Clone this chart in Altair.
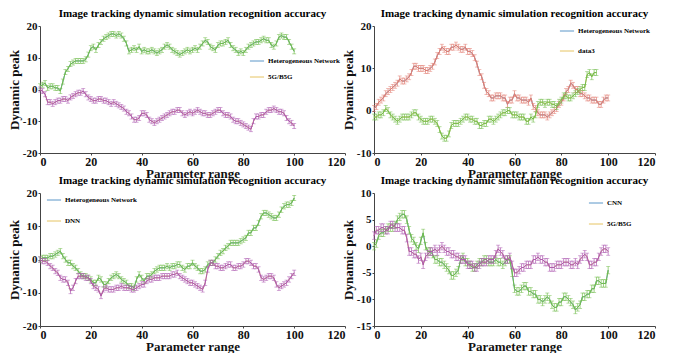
import altair as alt
import pandas as pd

TITLE = "Image tracking dynamic simulation recognition accuracy"
X_LABEL = "Parameter range"
Y_LABEL = "Dynamic peak"

# Panel 1 (top-left)
P1_NAMES = ["Heterogeneous Network", "5G/B5G"]
P1_A = [1.0, 1.5, 2.0, 0.5, 1.0, 1.0, 0.5, 0.5, -0.5, 2.5, 5.5, 6.5, 8.0, 8.5, 9.0, 9.0, 9.0, 9.0, 9.5, 11.0,
        13.0, 13.5, 12.5, 14.0, 15.0, 16.0, 16.5, 17.0, 17.5, 17.5, 17.0, 17.5, 17.0, 16.0, 14.5, 12.0, 12.5, 13.0, 12.5, 13.5,
        12.0, 12.5, 12.0, 12.0, 12.5, 12.0, 11.5, 12.0, 12.5, 13.5, 14.0, 13.5, 12.5, 12.0, 11.5, 11.0, 11.5, 12.0, 12.5, 12.0,
        12.5, 13.0, 12.5, 13.5, 14.5, 15.5, 15.0, 13.5, 13.0, 12.5, 14.0, 14.5, 14.5, 15.0, 15.5, 14.0, 13.0, 12.5, 11.5, 12.0,
        11.5, 12.5, 13.5, 14.0, 14.5, 15.0, 15.0, 15.5, 16.0, 15.5, 15.5, 14.0, 13.5, 14.5, 16.5, 17.0, 16.5, 16.5, 15.0, 13.5,
        12.0]
P1_B = [0.0, -0.5, -1.5, -4.0, -4.0, -4.5, -4.0, -3.5, -3.5, -3.0, -3.0, -3.5, -2.5, -2.0, -1.5, -1.0, -1.0, -0.5, -1.5, -2.5,
        -3.0, -3.5, -3.5, -3.0, -3.0, -3.5, -3.5, -4.0, -4.5, -4.0, -4.5, -5.0, -5.5, -6.0, -7.0, -7.5, -8.5, -9.5, -9.5, -9.0,
        -7.5, -7.5, -8.0, -9.5, -10.0, -10.5, -10.0, -9.5, -9.0, -8.5, -8.0, -7.5, -7.0, -7.0, -6.5, -6.5, -7.5, -8.0, -7.5, -7.0,
        -7.5, -7.0, -6.5, -7.0, -7.5, -7.5, -8.0, -8.0, -7.5, -7.0, -6.5, -6.5, -7.5, -8.0, -8.0, -8.5, -9.5, -10.0, -10.0, -10.5,
        -11.0, -11.5, -12.0, -12.5, -10.0, -8.5, -8.5, -8.0, -8.0, -7.0, -6.5, -6.5, -6.0, -6.5, -7.0, -7.0, -7.5, -9.0, -10.0, -10.5,
        -11.5]

# Panel 2 (top-right)
P2_NAMES = ["Heterogeneous Network", "data3"]
P2_A = [0.5, 1.0, 2.0, 2.5, 3.0, 4.0, 4.5, 5.0, 5.5, 6.0, 6.5, 7.5, 7.0, 7.0, 7.5, 8.0, 9.0, 10.5, 10.5, 10.0,
        10.0, 10.0, 9.5, 9.5, 10.0, 10.5, 11.5, 13.0, 14.0, 15.0, 14.5, 14.0, 14.0, 15.0, 15.0, 15.5, 15.0, 14.5, 14.5, 15.0,
        14.0, 14.0, 13.5, 12.5, 11.0, 9.0, 8.0, 6.0, 4.5, 4.0, 3.0, 3.0, 3.5, 3.5, 3.5, 3.0, 3.0, 1.5, 2.5, 2.5,
        4.0, 3.0, 3.0, 2.5, 2.5, 2.5, 2.0, 3.0, 1.0, 0.5, -0.5, -1.0, -1.0, -1.0, -1.5, -1.0, -0.5, 0.0, 0.5, 1.5,
        2.0, 3.0, 4.5, 5.0, 6.5, 6.0, 5.0, 5.0, 4.0, 4.0, 3.5, 3.0, 3.0, 2.5, 2.5, 2.5, 1.5, 1.5, 2.5, 3.0,
        3.0]
P2_B = [-1.5, -1.5, -1.0, -1.0, -0.5, 0.5, 0.0, -1.0, -1.5, -2.0, -2.5, -2.0, -1.5, -1.5, -1.5, -1.5, -1.0, -0.5, -0.5, -1.5,
        -2.0, -2.5, -2.5, -2.5, -2.0, -2.0, -2.5, -3.0, -4.5, -6.0, -6.5, -6.5, -5.5, -3.5, -3.0, -3.0, -3.0, -2.5, -2.0, -1.5,
        -1.5, -2.0, -2.0, -2.5, -2.5, -3.5, -3.5, -3.0, -3.0, -2.0, -2.0, -2.5, -2.0, -1.5, -1.0, -0.5, -0.5, 0.0, 0.0, -1.0,
        -1.0, -1.0, -1.5, -1.5, -1.5, -2.5, -2.5, -1.5, -2.0, -1.0, 1.5, 2.0, 2.0, 1.5, 2.0, 2.0, 1.5, 1.5, 1.0, 2.0,
        2.5, 3.5, 3.5, 3.0, 3.0, 3.5, 4.0, 4.5, 5.0, 5.5, 5.5, 8.5, 9.0, 8.0, 9.0, 9.0]

# Panel 3 (bottom-left)
P3_NAMES = ["Heterogeneous Network", "DNN"]
P3_A = [0.0, 0.5, 0.5, 0.5, 1.0, 1.0, 1.5, 2.0, 2.5, 1.0, 0.0, -1.0, -1.0, -2.0, -2.5, -3.5, -4.5, -5.0, -5.0, -5.5,
        -6.0, -7.0, -7.0, -5.5, -6.0, -7.5, -7.5, -6.5, -5.5, -5.0, -4.5, -5.0, -6.0, -6.5, -7.0, -8.0, -8.0, -8.5, -6.0, -4.5,
        -5.5, -6.5, -5.0, -5.0, -4.5, -3.5, -3.0, -2.5, -2.5, -2.5, -2.0, -2.5, -2.0, -2.0, -1.5, -1.5, -2.5, -3.0, -2.0, -2.0,
        -1.0, -2.0, -2.5, -3.5, -3.5, -3.0, -1.5, -1.0, -1.0, 0.0, 1.0, 2.0, 2.5, 3.5, 4.0, 5.0, 5.0, 5.0, 5.0, 5.5,
        6.0, 6.5, 8.0, 8.0, 9.5, 9.5, 11.0, 13.0, 14.0, 14.0, 13.5, 13.0, 12.5, 12.5, 13.5, 15.0, 16.0, 16.5, 16.5, 17.0,
        18.5]
P3_B = [0.0, -0.5, -0.5, -1.0, -2.0, -2.5, -3.5, -4.0, -5.5, -6.0, -6.0, -7.0, -9.5, -8.5, -6.5, -5.0, -5.0, -5.0, -5.5, -5.5,
        -6.5, -8.0, -8.5, -9.0, -11.0, -9.0, -8.5, -9.0, -9.0, -9.0, -8.5, -8.5, -8.0, -8.5, -8.5, -8.5, -9.0, -9.0, -8.5, -8.0,
        -7.5, -7.5, -6.5, -6.0, -6.0, -5.5, -5.5, -5.5, -5.0, -5.0, -5.0, -5.0, -4.5, -4.5, -4.0, -5.0, -5.5, -6.0, -6.5, -7.0,
        -7.0, -7.5, -8.0, -8.5, -9.0, -7.0, -3.0, -1.0, -1.0, -2.0, -2.0, -2.5, -2.5, -2.0, -1.5, -1.5, -2.5, -2.5, -2.0, -2.0,
        -1.5, -0.5, -0.5, -1.0, -2.0, -2.0, -3.0, -5.5, -6.0, -5.5, -5.0, -5.0, -5.5, -7.5, -8.5, -8.0, -7.5, -7.0, -6.0, -5.0,
        -4.0]

# Panel 4 (bottom-right)
P4_NAMES = ["CNN", "5G/B5G"]
P4_A = [0.0, 0.5, 2.0, 2.5, 2.5, 3.0, 3.5, 3.5, 3.5, 4.0, 5.0, 5.5, 6.0, 6.0, 5.0, 3.0, 1.5, 1.0, 0.0, -0.5,
        1.0, 2.5, 0.0, -1.0, -1.0, -1.5, -2.5, -2.5, -3.0, -3.0, -3.5, -4.0, -4.5, -5.5, -5.5, -5.0, -4.5, -2.5, -2.0, -3.0,
        -3.0, -3.5, -4.0, -4.0, -3.5, -3.0, -3.0, -2.5, -2.5, -3.0, -3.0, -3.0, -2.5, -3.0, -3.0, -3.5, -3.0, -2.5, -2.5, -5.0,
        -8.0, -8.5, -8.5, -8.0, -7.5, -7.5, -8.5, -8.5, -9.0, -9.0, -10.0, -10.0, -10.5, -10.0, -9.5, -10.0, -11.0, -11.5, -11.5, -10.5,
        -10.5, -9.5, -9.5, -10.0, -10.5, -11.0, -12.0, -11.5, -11.0, -9.5, -9.5, -9.0, -9.0, -8.0, -8.0, -6.5, -6.5, -7.0, -7.0, -7.0,
        -4.5]
P4_B = [2.0, 3.0, 3.0, 3.5, 3.5, 3.0, 3.0, 4.0, 4.0, 3.5, 3.5, 3.5, 3.0, 3.0, 1.5, -1.0, -1.0, -1.5, -1.5, -2.5,
        -2.0, -3.5, -2.0, -1.5, -1.0, -1.0, -0.5, -1.0, -0.5, 0.0, -0.5, -1.0, -1.0, -1.5, -1.5, -2.0, -2.0, -2.5, -2.5, -2.5,
        -3.5, -3.5, -3.5, -4.0, -4.0, -3.5, -3.0, -3.0, -3.0, -2.5, -2.5, -2.5, -1.5, -0.5, -1.0, -1.5, -2.5, -2.5, -2.0, -3.5,
        -5.0, -5.0, -4.5, -4.0, -4.0, -3.5, -3.5, -3.5, -2.5, -2.5, -2.0, -2.5, -2.5, -3.0, -3.0, -4.0, -4.0, -4.0, -3.5, -3.5,
        -3.5, -3.0, -3.0, -3.0, -3.5, -3.5, -3.0, -3.5, -2.5, -2.0, -1.5, -2.0, -3.5, -3.5, -3.0, -3.0, -2.0, -1.0, -0.5, -0.5,
        -1.0]

# error half-widths per panel
ERRS = [0.8, 0.7, 0.8, 0.7]

FONT = "Liberation Serif"
GREEN = "#72bd4c"
PURPLE = "#ad58b0"
PINK = "#e27c70"
LEG_BLUE = "#5a96c8"
LEG_YELLOW = "#e6c462"


def series_df(vals, name, err):
    xs = list(range(len(vals)))
    return pd.DataFrame({
        "x": xs,
        "y": vals,
        "lo": [v - err for v in vals],
        "hi": [v + err for v in vals],
        "series": [name] * len(vals),
    })


def panel(a, b, names, colors, ydom, ystep, err, width, height, legx, legy, rowpad):
    xs = alt.X("x:Q", scale=alt.Scale(domain=[0, 120], nice=False),
               axis=alt.Axis(values=list(range(0, 121, 20)), title=X_LABEL, labelExpr="datum.value"))
    yscale = alt.Scale(domain=ydom, nice=False)
    yaxis = alt.Axis(values=list(range(ydom[0], ydom[1] + 1, ystep)), title=Y_LABEL, labelExpr="datum.value")
    da = series_df(a, names[0], err)
    db = series_df(b, names[1], err)
    both = pd.concat([da, db])
    legend_line = alt.Chart(both).mark_line(strokeWidth=1).encode(
        x=xs,
        y=alt.Y("y:Q", scale=yscale, axis=yaxis),
        color=alt.Color("series:N", scale=alt.Scale(domain=names, range=[LEG_BLUE, LEG_YELLOW]),
                        legend=alt.Legend(orient="none", legendX=legx, legendY=legy, title=None,
                                          symbolType="stroke", symbolSize=200, symbolStrokeWidth=1,
                                          labelFont=FONT, labelFontSize=7, labelFontWeight="bold",
                                          labelOffset=3, rowPadding=rowpad, padding=0)),
        detail="series:N",
    )
    layers = [legend_line]
    for df, c in ((da, colors[0]), (db, colors[1])):
        base = alt.Chart(df)
        layers.append(base.mark_line(color=c, strokeWidth=1).encode(
            x=xs, y=alt.Y("y:Q", scale=yscale, axis=yaxis)))
        layers.append(base.mark_rule(color=c, strokeWidth=0.7).encode(
            x=xs, y=alt.Y("lo:Q", scale=yscale, axis=yaxis), y2="hi:Q"))
        for f in ("lo", "hi"):
            layers.append(base.mark_tick(color=c, orient="horizontal", size=4, thickness=0.7).encode(
                x=xs, y=alt.Y(f + ":Q", scale=yscale, axis=yaxis)))
    return alt.layer(*layers).properties(
        width=width, height=height,
        title=alt.TitleParams(TITLE, font=FONT, fontSize=11, fontWeight="bold", offset=1, anchor="middle"),
    )


p1 = panel(P1_A, P1_B, P1_NAMES, [GREEN, PURPLE], [-20, 20], 10, ERRS[0], 305, 127, 209, 27, 5)
p2 = panel(P2_A, P2_B, P2_NAMES, [PINK, GREEN], [-10, 20], 10, ERRS[1], 281, 127, 185, -3, 9)
p3 = panel(P3_A, P3_B, P3_NAMES, [GREEN, PURPLE], [-20, 20], 10, ERRS[2], 305, 133, 6, -1, 10)
p4 = panel(P4_A, P4_B, P4_NAMES, [GREEN, PURPLE], [-15, 10], 5, ERRS[3], 281, 133, 214, 2, 10)

chart = alt.concat(p1, p2, p3, p4, columns=2, spacing={"row": 40, "column": 29}, bounds="flush").resolve_scale(
    color="independent", x="independent", y="independent"
).properties(padding=0).configure_view(stroke=None).configure_axis(
    grid=False, domainColor="#444", domainWidth=1, tickColor="#444", tickSize=2,
    labelFont=FONT, labelFontSize=12, labelFontWeight="bold", labelColor="#111", labelPadding=1,
    titleFont=FONT, titleFontSize=13, titleFontWeight="bold", titleColor="#111", titlePadding=0,
).configure_axisY(labelFontSize=11, titlePadding=1)

chart.save("out.html", embed_options={"renderer": "svg", "actions": False})
